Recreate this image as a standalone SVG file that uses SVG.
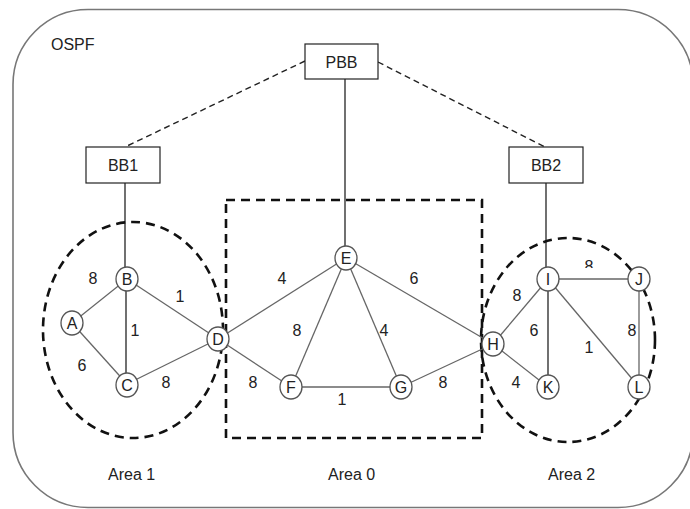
<svg xmlns="http://www.w3.org/2000/svg" width="690" height="509" viewBox="0 0 690 509">
<style>
text{font-family:"Liberation Sans",Arial,sans-serif;font-size:16px;fill:#222;text-anchor:middle}
.lbl{text-anchor:start}
.node ellipse{fill:#fff;stroke:#555;stroke-width:1.3}
.box rect{fill:#fff;stroke:#222;stroke-width:1.2}
.e{stroke:#666;stroke-width:1.3;fill:none}
.v{stroke:#111;stroke-width:1.2;fill:none}
.dl{stroke:#222;stroke-width:1.4;stroke-dasharray:6,4;fill:none}
.area{stroke:#111;stroke-width:2.6;stroke-dasharray:9,6;fill:none}
</style>
<defs>
<clipPath id="clipIJ"><rect x="570" y="250" width="40" height="18"/></clipPath>
</defs>
<rect x="0" y="0" width="690" height="509" fill="#fff"/>
<rect x="13" y="9.5" width="680" height="498" rx="75" ry="75" fill="none" stroke="#777" stroke-width="1.6"/>
<text class="lbl" x="51" y="50">OSPF</text>

<g id="areas">
<ellipse cx="133" cy="330" rx="90" ry="108" class="area"/>
<rect x="226" y="200" width="256" height="238" class="area"/>
<ellipse cx="568" cy="340" rx="87" ry="102" class="area"/>
</g>

<g id="connectors">
<line class="dl" x1="305" y1="61" x2="125" y2="147"/>
<line class="dl" x1="378" y1="62" x2="545" y2="147"/>
<line class="v" x1="345" y1="79" x2="345" y2="246"/>
<line class="v" x1="125" y1="183" x2="125" y2="267"/>
<line class="v" x1="546" y1="183" x2="546" y2="267"/>
<line class="e" x1="72" y1="323" x2="127" y2="279"/>
<line class="e" x1="72" y1="323" x2="127" y2="384"/>
<line class="v" x1="126" y1="279" x2="126" y2="384"/>
<line class="e" x1="127" y1="279" x2="218" y2="339"/>
<line class="e" x1="127" y1="384" x2="218" y2="339"/>
<line class="e" x1="218" y1="339" x2="346" y2="258"/>
<line class="e" x1="218" y1="339" x2="291" y2="387"/>
<line class="e" x1="346" y1="258" x2="291" y2="387"/>
<line class="e" x1="346" y1="258" x2="401" y2="387"/>
<line class="e" x1="346" y1="258" x2="493" y2="344"/>
<line class="e" x1="291" y1="387" x2="401" y2="387"/>
<line class="e" x1="401" y1="387" x2="493" y2="344"/>
<line class="e" x1="493" y1="344" x2="548" y2="279"/>
<line class="e" x1="493" y1="344" x2="548" y2="387"/>
<line class="e" x1="548" y1="279" x2="639" y2="279"/>
<line class="v" x1="548" y1="279" x2="548" y2="387"/>
<line class="e" x1="548" y1="279" x2="639" y2="387"/>
<line class="e" x1="639" y1="279" x2="639" y2="387"/>
</g>

<g id="edge-labels">
<text x="93" y="284">8</text>
<text x="180" y="302">1</text>
<text x="135" y="336">1</text>
<text x="82" y="371">6</text>
<text x="166" y="388">8</text>
<text x="282" y="284">4</text>
<text x="414" y="284">6</text>
<text x="297" y="336">8</text>
<text x="384" y="336">4</text>
<text x="253" y="388">8</text>
<text x="342" y="405">1</text>
<text x="443" y="388">8</text>
<text x="517" y="301">8</text>
<text x="589" y="272" clip-path="url(#clipIJ)">8</text>
<text x="534" y="336">6</text>
<text x="589" y="353">1</text>
<text x="632" y="336">8</text>
<text x="516" y="388">4</text>
</g>

<g id="PBB" class="box"><rect x="305" y="44" width="73" height="35"/><text x="341.5" y="67.5">PBB</text></g>
<g id="BB1" class="box"><rect x="86" y="147" width="74" height="36"/><text x="123" y="171">BB1</text></g>
<g id="BB2" class="box"><rect x="509" y="147" width="74" height="36"/><text x="546" y="171">BB2</text></g>

<g id="A" class="node"><ellipse cx="72" cy="323" rx="11" ry="12"/><text x="72" y="329">A</text></g>
<g id="B" class="node"><ellipse cx="127" cy="279" rx="11" ry="12"/><text x="127" y="285">B</text></g>
<g id="C" class="node"><ellipse cx="127" cy="385" rx="11" ry="12"/><text x="127" y="391">C</text></g>
<g id="D" class="node"><ellipse cx="218" cy="339" rx="11" ry="12"/><text x="218" y="345">D</text></g>
<g id="E" class="node"><ellipse cx="346" cy="258" rx="11" ry="12"/><text x="346" y="264">E</text></g>
<g id="F" class="node"><ellipse cx="291" cy="387" rx="11" ry="12"/><text x="291" y="393">F</text></g>
<g id="G" class="node"><ellipse cx="401" cy="387" rx="11" ry="12"/><text x="401" y="393">G</text></g>
<g id="H" class="node"><ellipse cx="493" cy="344" rx="11" ry="12"/><text x="493" y="350">H</text></g>
<g id="I" class="node"><ellipse cx="548" cy="279" rx="11" ry="12"/><text x="548" y="285">I</text></g>
<g id="J" class="node"><ellipse cx="639" cy="279" rx="11" ry="12"/><text x="639" y="285">J</text></g>
<g id="K" class="node"><ellipse cx="548" cy="387" rx="11" ry="12"/><text x="548" y="393">K</text></g>
<g id="L" class="node"><ellipse cx="639" cy="387" rx="11" ry="12"/><text x="639" y="393">L</text></g>

<text class="lbl" x="108" y="480">Area 1</text>
<text class="lbl" x="328" y="480">Area 0</text>
<text class="lbl" x="548" y="480">Area 2</text>
</svg>
